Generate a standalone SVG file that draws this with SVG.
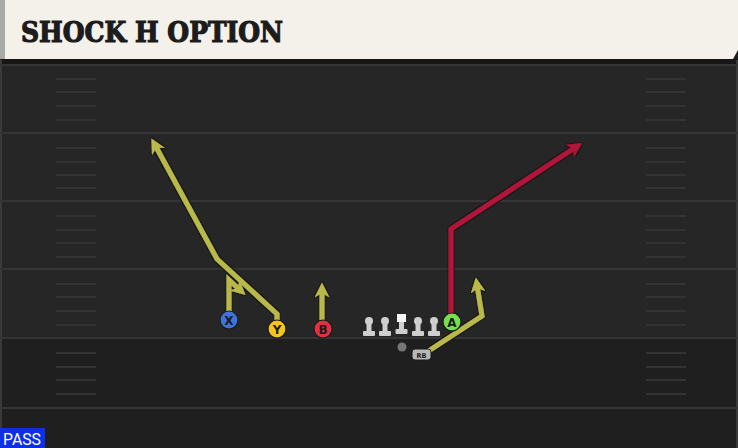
<svg xmlns="http://www.w3.org/2000/svg" width="738" height="448" viewBox="0 0 738 448">
<style>
.yl{stroke:#353535;stroke-width:2;fill:none}
.hash{stroke:#333333;stroke-width:2;fill:none}
.rt{fill:none;stroke-width:5;stroke-linejoin:miter;stroke-linecap:butt}
.yel{stroke:#b9b94c}
.red{stroke:#b0173a}
.pc{stroke:#1a1a1a;stroke-width:1.2}
.pl{font-family:"DejaVu Sans",sans-serif;font-weight:bold;font-size:12px;fill:#1a1a1a;text-anchor:middle}
.ol{fill:#cfcfcf}
</style>
<defs>
<filter id="out" x="-10%" y="-10%" width="120%" height="120%">
<feMorphology in="SourceAlpha" operator="dilate" radius="1" result="d"/>
<feFlood flood-color="#151515"/>
<feComposite in2="d" operator="in" result="o"/>
<feMerge><feMergeNode in="o"/><feMergeNode in="SourceGraphic"/></feMerge>
</filter>
<marker id="ay" viewBox="0 0 10 10" refX="5" refY="5" markerWidth="3" markerHeight="3" orient="auto" markerUnits="strokeWidth">
<path d="M0,0 L10,5 L0,10 L3,5 Z" fill="#b9b94c"/>
</marker>
<marker id="ar" viewBox="0 0 10 10" refX="5" refY="5" markerWidth="3" markerHeight="3" orient="auto" markerUnits="strokeWidth">
<path d="M0,0 L10,5 L0,10 L3,5 Z" fill="#b0173a"/>
</marker>
</defs>

<!-- field -->
<rect x="0" y="0" width="738" height="448" fill="#1f1f1f"/>
<rect x="0" y="60" width="738" height="279" fill="#262626"/>
<rect x="0" y="59" width="738" height="5" fill="#161616"/>
<line x1="1" y1="60" x2="1" y2="448" stroke="#3a3a3a" stroke-width="2"/>
<line x1="737" y1="60" x2="737" y2="448" stroke="#3a3a3a" stroke-width="2"/>
<g id="yardlines">
<line class="yl" x1="0" y1="65" x2="738" y2="65"/>
<line class="yl" x1="0" y1="133" x2="738" y2="133"/>
<line class="yl" x1="0" y1="201" x2="738" y2="201"/>
<line class="yl" x1="0" y1="269" x2="738" y2="269"/>
<line class="yl" x1="0" y1="338" x2="738" y2="338"/>
<line class="yl" x1="0" y1="408" x2="738" y2="408"/>
</g>
<g id="hashes">
<path class="hash" d="M56,79H96M56,92H96M56,106H96M56,120H96M56,148H96M56,162H96M56,175H96M56,188H96M56,216H96M56,230H96M56,243H96M56,257H96M56,284H96M56,297H96M56,311H96M56,325H96M56,353H96M56,367H96M56,380H96M56,394H96"/>
<path class="hash" d="M646,79H686M646,92H686M646,106H686M646,120H686M646,148H686M646,162H686M646,175H686M646,188H686M646,216H686M646,230H686M646,243H686M646,257H686M646,284H686M646,297H686M646,311H686M646,325H686M646,353H686M646,367H686M646,380H686M646,394H686"/>
</g>

<!-- header -->
<g id="header">
<path d="M0,0 H738 V50 L733,59 H0 Z" fill="#f4f1ea"/>
<rect x="0" y="0" width="5" height="59" fill="#a9a9a6"/>
<text x="21" y="42" font-family="'DejaVu Serif',serif" font-weight="bold" font-size="27" fill="#1c1c1c" stroke="#1c1c1c" stroke-width="1.2" textLength="262" lengthAdjust="spacingAndGlyphs">SHOCK H OPTION</text>
</g>

<!-- connectors -->
<g id="routes" filter="url(#out)">
<path class="rt yel" d="M229,312 L229,280 L240,290" marker-end="url(#ay)"/>
<path class="rt yel" d="M277,320 L277,314 L217,259 L155,145" marker-end="url(#ay)"/>
<path class="rt yel" d="M322,320 L322,290" marker-end="url(#ay)"/>
<path class="rt red" d="M451,314 L451,229 L576,147" marker-end="url(#ar)"/>
<path class="rt yel" d="M427,352 L482,316 L477,285" marker-end="url(#ay)"/>
</g>

<!-- offensive line -->
<g id="line">
<g id="lt"><circle class="ol" cx="369" cy="321" r="4"/><rect class="ol" x="366.5" y="321" width="5" height="12"/><rect class="ol" x="363" y="331" width="12" height="5" rx="1"/></g>
<g id="lg"><circle class="ol" cx="385" cy="321" r="4"/><rect class="ol" x="382.5" y="321" width="5" height="12"/><rect class="ol" x="379" y="331" width="12" height="5" rx="1"/></g>
<g id="c"><rect x="397" y="314" width="9" height="8" fill="#f4f4f4"/><rect class="ol" x="399" y="322" width="5" height="9"/><rect class="ol" x="395.5" y="329" width="12" height="5" rx="1"/></g>
<g id="rg"><circle class="ol" cx="418" cy="321" r="4"/><rect class="ol" x="415.5" y="321" width="5" height="12"/><rect class="ol" x="412" y="331" width="12" height="5" rx="1"/></g>
<g id="rt"><circle class="ol" cx="434" cy="321" r="4"/><rect class="ol" x="431.5" y="321" width="5" height="12"/><rect class="ol" x="428" y="331" width="12" height="5" rx="1"/></g>
</g>

<g id="qb"><circle cx="402" cy="347" r="4.5" fill="#777"/></g>
<g id="rb">
<rect x="412" y="349" width="19" height="11" rx="3" fill="#b8b8b8" stroke="#1a1a1a" stroke-width="1"/>
<text x="421.5" y="357.5" font-family="'DejaVu Sans',sans-serif" font-weight="bold" font-size="6.5" fill="#222" text-anchor="middle">RB</text>
</g>

<g id="X"><circle class="pc" cx="229" cy="320" r="9" fill="#3f72da"/><text class="pl" x="229" y="324.5">X</text></g>
<g id="Y"><circle class="pc" cx="277" cy="329" r="9" fill="#f5c51c"/><text class="pl" x="277" y="333.5">Y</text></g>
<g id="B"><circle class="pc" cx="323" cy="329" r="9" fill="#e2303f"/><text class="pl" x="323" y="333.5">B</text></g>
<g id="A"><circle class="pc" cx="452" cy="322" r="9" fill="#74e04c"/><text class="pl" x="452" y="326.5">A</text></g>

<g id="pass">
<rect x="0" y="428" width="45" height="20" fill="#0d2fe6"/>
<text x="3" y="445" font-family="'Roboto','Liberation Sans',sans-serif" font-size="16" fill="#ffffff" textLength="38" lengthAdjust="spacingAndGlyphs">PASS</text>
</g>
</svg>
